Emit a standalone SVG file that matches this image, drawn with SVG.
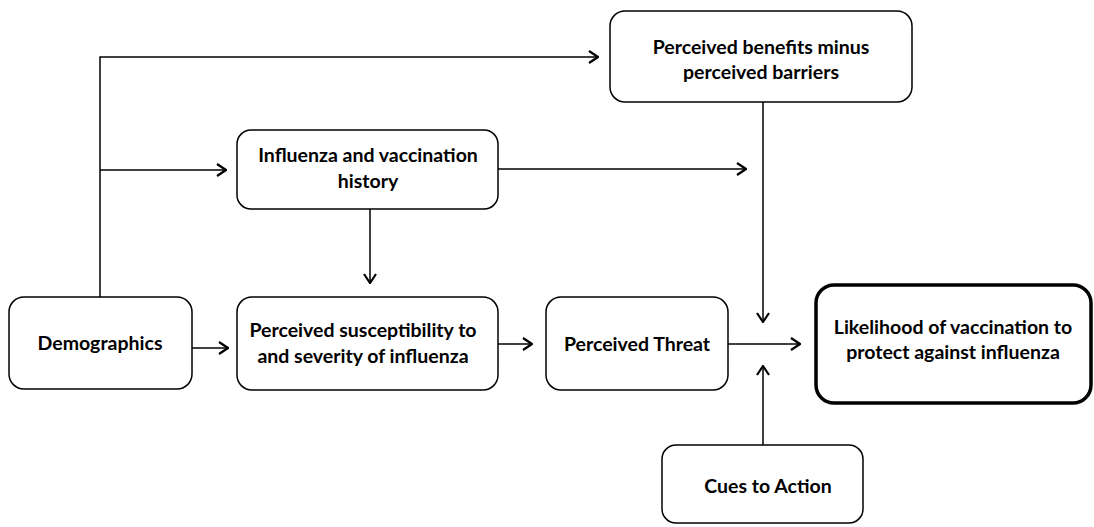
<svg xmlns="http://www.w3.org/2000/svg" width="1094" height="527" viewBox="0 0 1094 527">
<style>
.box{fill:#fff;stroke:#000;stroke-width:1.5}
.thick{stroke-width:3.5}
.t{font-family:Lato,"Liberation Sans",sans-serif;font-weight:bold;font-size:19.5px;fill:#000;text-anchor:middle}
.c{fill:none;stroke:#000;stroke-width:1.5}
</style>
<defs>
<marker id="a" viewBox="0 0 12 14" refX="11" refY="7" markerWidth="12" markerHeight="14" markerUnits="userSpaceOnUse" orient="auto">
<path d="M2,1 L11,7 L2,13" fill="none" stroke="#000" stroke-width="2.2"/>
</marker>
</defs>
<rect width="1094" height="527" fill="#fff"/>
<g id="connectors">
<path class="c" d="M100,297 V57 H598" marker-end="url(#a)"/>
<path class="c" d="M100,170 H226" marker-end="url(#a)"/>
<path class="c" d="M192,348 H228" marker-end="url(#a)"/>
<path class="c" d="M498,169 H746" marker-end="url(#a)"/>
<path class="c" d="M370,209 V283" marker-end="url(#a)"/>
<path class="c" d="M498,344 H532" marker-end="url(#a)"/>
<path class="c" d="M728,344 H800" marker-end="url(#a)"/>
<path class="c" d="M763,102 V322" marker-end="url(#a)"/>
<path class="c" d="M763,445 V366" marker-end="url(#a)"/>
</g>
<g id="demographics">
<rect class="box" x="9" y="297" width="183" height="92" rx="15"/>
<text class="t" x="100" y="350">Demographics</text>
</g>
<g id="influenza-history">
<rect class="box" x="237" y="130" width="261" height="79" rx="14"/>
<text class="t" x="368" y="162">Influenza and vaccination</text>
<text class="t" x="368" y="188">history</text>
</g>
<g id="perceived-benefits">
<rect class="box" x="610" y="11" width="302" height="91" rx="15"/>
<text class="t" x="761" y="54">Perceived benefits minus</text>
<text class="t" x="761" y="79">perceived barriers</text>
</g>
<g id="perceived-susceptibility">
<rect class="box" x="237" y="297" width="261" height="93" rx="15"/>
<text class="t" x="363" y="337">Perceived susceptibility to</text>
<text class="t" x="363" y="363">and severity of influenza</text>
</g>
<g id="perceived-threat">
<rect class="box" x="546" y="297" width="182" height="93" rx="15"/>
<text class="t" x="637" y="351">Perceived Threat</text>
</g>
<g id="likelihood">
<rect class="box thick" x="816" y="285" width="275" height="118" rx="18"/>
<text class="t" x="953" y="334">Likelihood of vaccination to</text>
<text class="t" x="953" y="359">protect against influenza</text>
</g>
<g id="cues">
<rect class="box" x="662" y="445" width="201" height="78" rx="14"/>
<text class="t" x="768" y="493">Cues to Action</text>
</g>
</svg>
